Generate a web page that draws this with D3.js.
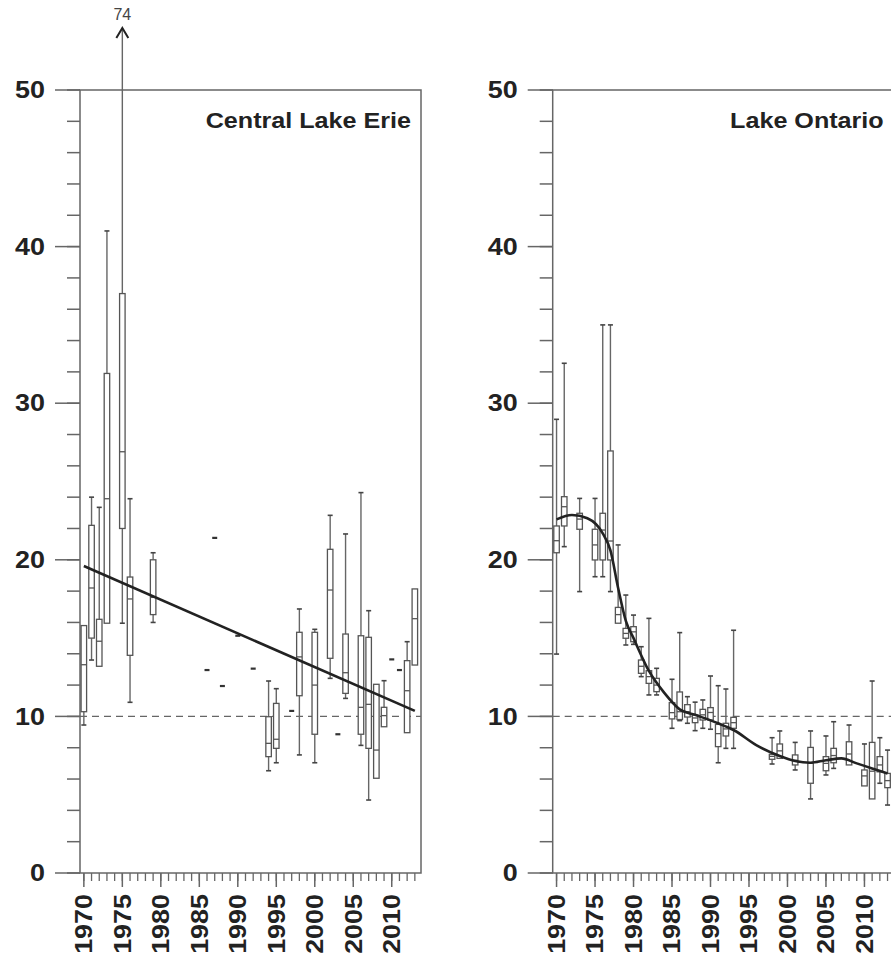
<!DOCTYPE html>
<html>
<head>
<meta charset="utf-8">
<script src="https://cdn.jsdelivr.net/npm/d3@7"></script>
<style>
  body { margin: 0; background: #fff; }
  svg { display: block; }
</style>
</head>
<body>
<div id="chart"></div>
<script>
// Datos del lago Erie central (cajas por año)
const erieYears = [1970, 1971, 1972, 1973, 1975, 1976, 1979, 1994, 1995, 1998, 2000, 2002, 2004, 2006, 2007, 2008, 2009, 2012, 2013];
const erieLow   = [9.45, 13.6, 13.2, 15.95, 15.95, 10.9, 16.0, 6.53, 7.04, 7.54, 7.04, 12.43, 11.15, 8.15, 4.66, 6.05, 9.34, 8.96, 13.28];
const erieQ1    = [10.3, 15.0, 13.2, 15.95, 22.0, 13.9, 16.5, 7.43, 7.96, 11.32, 8.86, 13.71, 11.47, 8.86, 7.96, 6.05, 9.34, 8.96, 13.28];
const erieMed   = [13.3, 18.2, 14.8, 23.9, 26.9, 17.5, 17.6, 8.28, 8.54, 13.8, 12.0, 18.07, 12.79, 10.58, 10.77, 7.85, 10.05, 11.64, 16.24];
const erieQ3    = [15.8, 22.2, 16.2, 31.9, 37.0, 18.9, 20.0, 9.98, 10.83, 15.37, 15.37, 20.67, 15.26, 15.15, 15.05, 12.05, 10.58, 13.56, 18.14];
const erieHigh  = [15.8, 24.0, 23.35, 41.0, 74, 23.9, 20.45, 12.26, 11.77, 16.86, 15.56, 22.84, 21.65, 24.29, 16.75, 12.05, 12.28, 14.77, 18.14];

// Observaciones únicas (Erie)
const erieSingleYears  = [1986, 1987, 1988, 1990, 1992, 1997, 2003, 2010, 2011];
const erieSingleValues = [12.96, 21.4, 11.94, 15.15, 13.05, 10.35, 8.86, 13.64, 12.96];

// Tendencia lineal (Erie)
const erieTrendYears  = [1970, 2013];
const erieTrendValues = [19.6, 10.35];

// Datos del lago Ontario
const ontarioYears = [1970, 1971, 1973, 1975, 1976, 1977, 1978, 1979, 1980, 1981, 1982, 1983, 1985, 1986, 1987, 1988, 1989, 1990, 1991, 1992, 1993, 1998, 1999, 2001, 2003, 2005, 2006, 2008, 2010, 2011, 2012, 2013];
const ontarioLow   = [13.98, 20.84, 17.97, 18.92, 18.92, 17.97, 15.95, 14.56, 14.6, 12.54, 11.37, 11.37, 9.24, 9.73, 9.56, 9.09, 9.24, 9.18, 7.04, 7.96, 7.96, 6.96, 7.32, 6.58, 4.73, 6.26, 6.68, 6.9, 5.56, 4.73, 5.73, 4.34];
const ontarioQ1    = [20.45, 22.16, 21.95, 19.99, 19.99, 19.99, 15.95, 14.99, 14.77, 12.75, 12.11, 11.58, 9.84, 9.8, 9.96, 9.6, 9.77, 9.77, 8.07, 8.75, 9.24, 7.26, 7.32, 6.9, 5.73, 6.53, 7.04, 6.9, 5.56, 4.73, 6.46, 5.45];
const ontarioMed   = [21.22, 23.39, 22.6, 20.95, 21.9, 21.2, 16.5, 15.3, 15.4, 13.2, 12.54, 12.0, 10.24, 10.3, 10.3, 9.9, 10.1, 10.25, 8.9, 9.2, 9.6, 7.45, 7.8, 7.2, 7.0, 7.0, 7.5, 7.6, 6.2, 6.5, 6.9, 5.9];
const ontarioQ3    = [22.16, 24.03, 22.97, 21.95, 22.97, 26.95, 16.96, 15.62, 15.73, 13.6, 12.92, 12.43, 10.88, 11.56, 10.75, 10.09, 10.45, 10.56, 9.49, 9.56, 9.94, 7.58, 8.24, 7.54, 8.02, 7.43, 7.96, 8.38, 6.58, 8.34, 7.43, 6.36];
const ontarioHigh  = [28.97, 32.55, 23.92, 23.92, 35.0, 35.0, 20.95, 17.75, 16.47, 14.45, 16.26, 13.07, 12.37, 15.35, 11.26, 10.91, 11.05, 12.58, 11.96, 11.75, 15.5, 8.64, 9.07, 8.34, 9.07, 8.75, 9.66, 9.45, 8.24, 12.26, 8.64, 7.85];

// Curva suavizada (Ontario)
const ontarioCurveYears  = [1970, 1972, 1974, 1976, 1977, 1978, 1979, 1980, 1982, 1984, 1986, 1988, 1991, 1993, 1996, 1999, 2001, 2003, 2005, 2007, 2009, 2011, 2013];
const ontarioCurveValues = [22.58, 22.86, 22.65, 21.69, 20.6, 18.2, 16.1, 15.0, 12.9, 11.5, 10.45, 10.1, 9.56, 9.13, 8.15, 7.47, 7.15, 7.04, 7.2, 7.32, 7.0, 6.68, 6.36];

// Ticks y etiquetas
const yMajorTicks = [0, 10, 20, 30, 40, 50];
const yMinorTicks = d3.range(0, 51, 2);
const xMajorTicks = [1970, 1975, 1980, 1985, 1990, 1995, 2000, 2005, 2010];
const xMinorTicks = d3.range(1970, 2014, 1);
const referenceLevel = 10;

const panelTitles = ['Central Lake Erie', 'Lake Ontario'];

document.addEventListener('DOMContentLoaded', function() {
    const width = 891;
    const height = 959;

    const svg = d3.select('#chart').append('svg')
        .attr('width', width)
        .attr('height', height);

    const axisColor = '#666';
    const fontFamily = '"Liberation Sans", Arial, sans-serif';

    function toBoxes(years, lo, q1, med, q3, hi) {
        return years.map((y, i) => ({ year: y, lo: lo[i], q1: q1[i], med: med[i], q3: q3[i], hi: hi[i] }));
    }

    // Función para dibujar un panel
    function drawPanel(left, title, boxes, singles, trend, smooth) {
        const panelW = 341;
        const top = 90, bottom = 873;

        const x = d3.scaleLinear().domain([1969.5, 2013.8]).range([left, left + panelW]);
        const y = d3.scaleLinear().domain([0, 50]).range([bottom, top]);

        const g = svg.append('g');

        // Marco
        g.append('rect')
            .attr('x', left).attr('y', top)
            .attr('width', panelW).attr('height', bottom - top)
            .attr('fill', 'none')
            .attr('stroke', axisColor)
            .attr('stroke-width', 1.5);

        // Ticks del eje Y
        g.selectAll('.y-minor').data(yMinorTicks).enter().append('line')
            .attr('x1', left - 13).attr('x2', left)
            .attr('y1', d => y(d)).attr('y2', d => y(d))
            .attr('stroke', axisColor).attr('stroke-width', 1.5);

        g.selectAll('.y-major').data(yMajorTicks).enter().append('line')
            .attr('x1', left - 25).attr('x2', left)
            .attr('y1', d => y(d)).attr('y2', d => y(d))
            .attr('stroke', axisColor).attr('stroke-width', 1.5);

        g.selectAll('.y-label').data(yMajorTicks).enter().append('text')
            .attr('transform', d => `translate(${left - 35},${y(d)}) scale(1.17,1)`)
            .attr('dy', '0.36em')
            .attr('text-anchor', 'end')
            .style('font-family', fontFamily)
            .style('font-weight', 'bold')
            .style('font-size', '23px')
            .style('fill', '#222')
            .text(d => d);

        // Ticks del eje X
        g.selectAll('.x-minor').data(xMinorTicks).enter().append('line')
            .attr('x1', d => x(d)).attr('x2', d => x(d))
            .attr('y1', bottom).attr('y2', bottom + 8)
            .attr('stroke', axisColor).attr('stroke-width', 1.3);

        g.selectAll('.x-major').data(xMajorTicks).enter().append('line')
            .attr('x1', d => x(d)).attr('x2', d => x(d))
            .attr('y1', bottom).attr('y2', bottom + 14)
            .attr('stroke', axisColor).attr('stroke-width', 1.5);

        g.selectAll('.x-label').data(xMajorTicks).enter().append('text')
            .attr('transform', d => `translate(${x(d)},${bottom + 21}) rotate(-90) scale(1.17,1)`)
            .attr('dy', '0.36em')
            .attr('text-anchor', 'end')
            .style('font-family', fontFamily)
            .style('font-weight', 'bold')
            .style('font-size', '23px')
            .style('fill', '#222')
            .text(d => d);

        // Línea de referencia discontinua
        g.append('line')
            .attr('x1', left).attr('x2', left + panelW)
            .attr('y1', y(referenceLevel)).attr('y2', y(referenceLevel))
            .attr('stroke', '#666')
            .attr('stroke-width', 1.3)
            .attr('stroke-dasharray', '7,5');

        // Título del panel
        g.append('text')
            .attr('transform', `translate(${left + panelW - 10},128) scale(1.17,1)`)
            .attr('text-anchor', 'end')
            .style('font-family', fontFamily)
            .style('font-weight', 'bold')
            .style('font-size', '21.5px')
            .style('fill', '#222')
            .text(title);

        // Cajas
        const bw = 5.5, cw = 5;
        const boxG = g.selectAll('.box').data(boxes).enter().append('g').attr('class', 'box');

        // Bigote superior
        boxG.append('line')
            .attr('x1', d => x(d.year)).attr('x2', d => x(d.year))
            .attr('y1', d => y(d.q3))
            .attr('y2', d => d.hi > 50 ? 30 : y(d.hi))
            .attr('stroke', '#666').attr('stroke-width', 1.4);

        boxG.filter(d => d.hi > d.q3 && d.hi <= 50).append('line')
            .attr('x1', d => x(d.year) - cw / 2).attr('x2', d => x(d.year) + cw / 2)
            .attr('y1', d => y(d.hi)).attr('y2', d => y(d.hi))
            .attr('stroke', '#444').attr('stroke-width', 1.6);

        // Bigote inferior
        boxG.filter(d => d.lo < d.q1).append('line')
            .attr('x1', d => x(d.year)).attr('x2', d => x(d.year))
            .attr('y1', d => y(d.q1)).attr('y2', d => y(d.lo))
            .attr('stroke', '#666').attr('stroke-width', 1.4);

        boxG.filter(d => d.lo < d.q1).append('line')
            .attr('x1', d => x(d.year) - cw / 2).attr('x2', d => x(d.year) + cw / 2)
            .attr('y1', d => y(d.lo)).attr('y2', d => y(d.lo))
            .attr('stroke', '#444').attr('stroke-width', 1.6);

        boxG.append('rect')
            .attr('x', d => x(d.year) - bw / 2)
            .attr('y', d => y(d.q3))
            .attr('width', bw)
            .attr('height', d => Math.max(1, y(d.q1) - y(d.q3)))
            .attr('fill', '#fff')
            .attr('stroke', '#555')
            .attr('stroke-width', 1.3);

        boxG.append('line')
            .attr('x1', d => x(d.year) - bw / 2).attr('x2', d => x(d.year) + bw / 2)
            .attr('y1', d => y(d.med)).attr('y2', d => y(d.med))
            .attr('stroke', '#555').attr('stroke-width', 1.3);

        // Flecha para valores fuera de escala
        const over = boxG.filter(d => d.hi > 50);
        over.append('path')
            .attr('d', d => `M${x(d.year) - 6},38 L${x(d.year)},28 L${x(d.year) + 6},38`)
            .attr('fill', 'none')
            .attr('stroke', '#222')
            .attr('stroke-width', 2);
        over.append('text')
            .attr('x', d => x(d.year))
            .attr('y', 20)
            .attr('text-anchor', 'middle')
            .style('font-family', fontFamily)
            .style('font-size', '16px')
            .style('fill', '#444')
            .text(d => d.hi);

        // Observaciones únicas
        g.selectAll('.single').data(singles).enter().append('line')
            .attr('x1', d => x(d.year) - 2.5).attr('x2', d => x(d.year) + 2.5)
            .attr('y1', d => y(d.value)).attr('y2', d => y(d.value))
            .attr('stroke', '#333').attr('stroke-width', 2.2);

        // Línea de tendencia
        if (trend) {
            const line = d3.line()
                .x(d => x(d.year))
                .y(d => y(d.value))
                .curve(smooth ? d3.curveMonotoneX : d3.curveLinear);
            g.append('path')
                .datum(trend)
                .attr('d', line)
                .attr('fill', 'none')
                .attr('stroke', '#222')
                .attr('stroke-width', 2.6);
        }
    }

    const erieBoxes = toBoxes(erieYears, erieLow, erieQ1, erieMed, erieQ3, erieHigh);
    const erieSingles = erieSingleYears.map((yr, i) => ({ year: yr, value: erieSingleValues[i] }));
    const erieTrend = erieTrendYears.map((yr, i) => ({ year: yr, value: erieTrendValues[i] }));

    const ontarioBoxes = toBoxes(ontarioYears, ontarioLow, ontarioQ1, ontarioMed, ontarioQ3, ontarioHigh);
    const ontarioCurve = ontarioCurveYears.map((yr, i) => ({ year: yr, value: ontarioCurveValues[i] }));

    drawPanel(80, panelTitles[0], erieBoxes, erieSingles, erieTrend, false);
    drawPanel(552.7, panelTitles[1], ontarioBoxes, [], ontarioCurve, true);
});
</script>
</body>
</html>
